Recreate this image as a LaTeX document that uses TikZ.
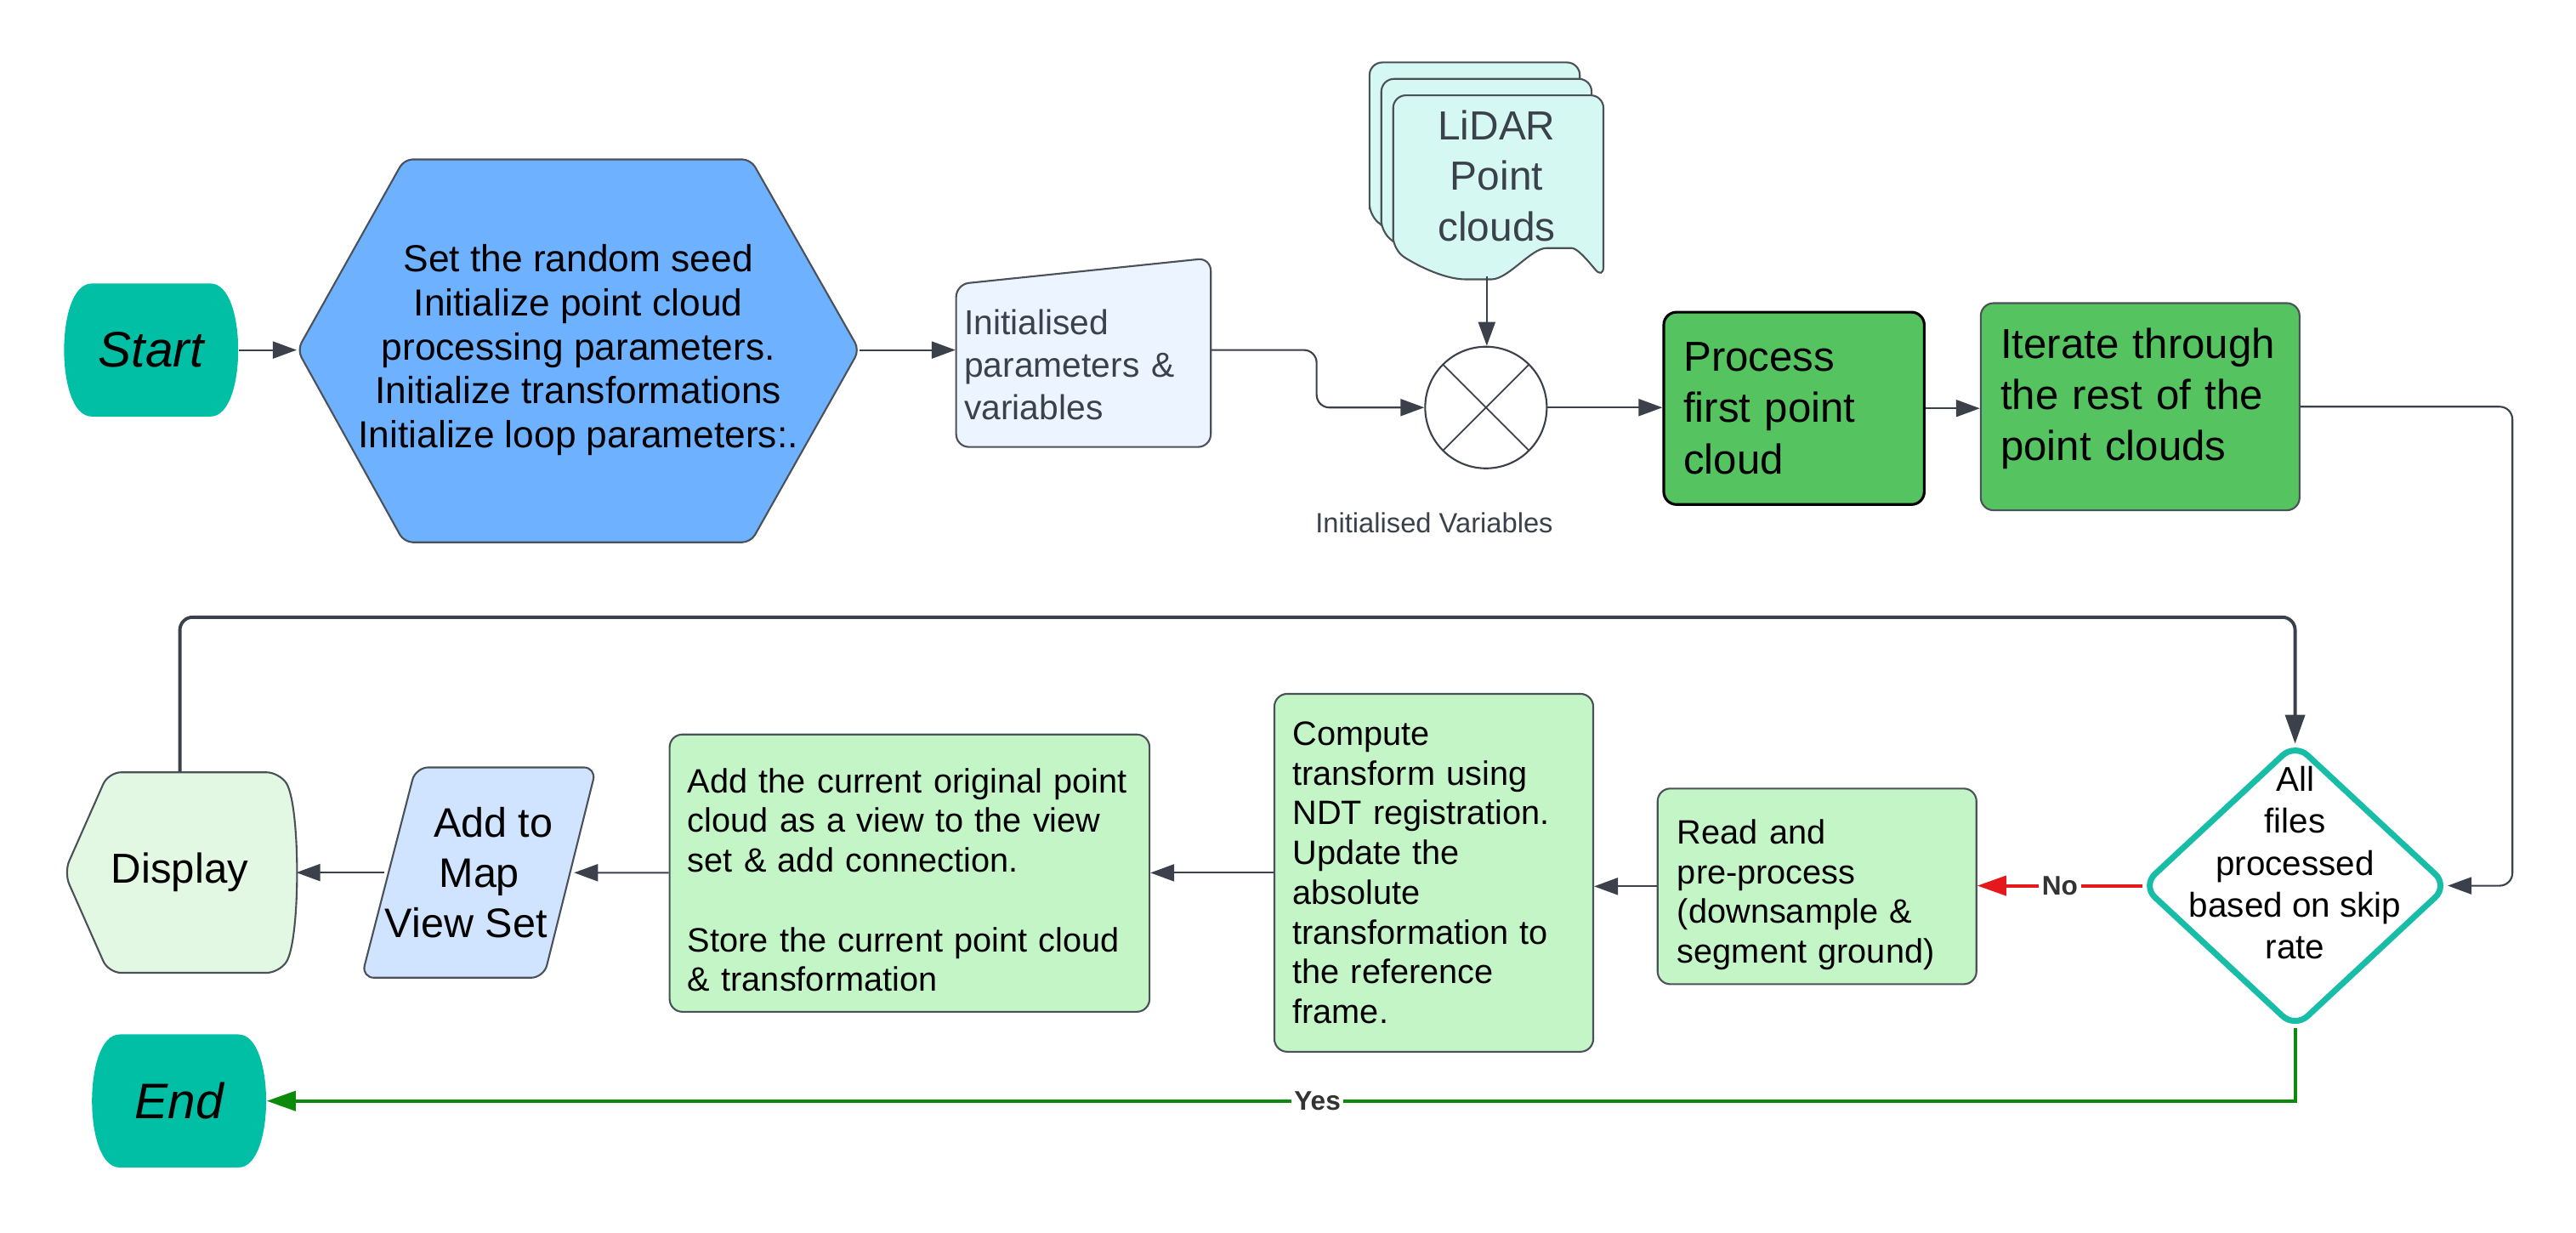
\documentclass[tikz,border=0pt]{standalone}
\usepackage{fontspec}
\setmainfont{Liberation Sans}
\usepackage{tikz}
\usetikzlibrary{arrows.meta,backgrounds,calc}
\definecolor{ink}{HTML}{3A414A}
\definecolor{edgegray}{HTML}{4B5159}
\definecolor{labelgray}{HTML}{333333}
\definecolor{termfill}{HTML}{00BFA5}
\definecolor{hexfill}{HTML}{6DB1FF}
\definecolor{paramfill}{HTML}{EBF4FF}
\definecolor{docfill}{HTML}{D6F8F2}
\definecolor{stepfill}{HTML}{55C35F}
\definecolor{softgreen}{HTML}{C3F5C7}
\definecolor{dispfill}{HTML}{E2F8E3}
\definecolor{mapfill}{HTML}{D0E4FF}
\definecolor{decisionteal}{HTML}{17BDA6}
\definecolor{nored}{HTML}{E5191C}
\definecolor{yesgreen}{HTML}{0C8A0C}
\tikzset{
  terminal/.style={inner sep=0pt,minimum width=2.048cm,minimum height=1.565cm,font=\fontsize{16.7}{20}\selectfont\itshape},
  outline/.style={draw=edgegray,line width=0.6pt,rounded corners=1.5mm},
  darkstep/.style={draw=black,line width=0.9pt,rounded corners=1.5mm,fill=stepfill,align=left,inner xsep=0.232cm,font=\fontsize{14}{17.2}\selectfont},
  lightstep/.style={outline,fill=softgreen,align=left,inner xsep=0.2126cm,minimum width=3.749cm,text width=3.319cm,font=\fontsize{11.3}{13.3}\selectfont},
  arrow/.style={-{Triangle[length=2.8mm,width=2mm]},line width=0.6pt,ink},
  bigarrow/.style={-{Triangle[length=3.4mm,width=2.3mm]},line width=1.1pt},
  edgelabel/.style={font=\fontsize{9}{10}\selectfont\bfseries,text=labelgray,fill=white,inner sep=1pt}
}

\begin{document}
\begin{tikzpicture}[
  x=0.019324cm,y=-0.019324cm,
  hexnode/.style={minimum width=6.609cm,minimum height=4.502cm,align=center,font=\fontsize{12.6}{14.7}\selectfont},
  paramnode/.style={text width=2.802cm,inner xsep=0.097cm,align=left,text=ink,font=\fontsize{11.6}{14.2}\selectfont},
  lidarnode/.style={align=center,text=ink,font=\fontsize{13.6}{16.9}\selectfont},
  mixnode/.style={circle,draw=ink,line width=0.6pt,fill=white,minimum size=1.43cm,inner sep=0pt,
    path picture={\draw[ink,line width=0.5pt] (path picture bounding box.north west) -- (path picture bounding box.south east)
      (path picture bounding box.north east) -- (path picture bounding box.south west);}},
  mixlabel/.style={text=ink,font=\fontsize{9.3}{11}\selectfont},
  decision/.style={minimum width=3.575cm,minimum height=3.324cm,inner sep=0pt},
  decisiontext/.style={align=center,font=\fontsize{11.5}{14}\selectfont},
  mapnode/.style={minimum width=2.135cm,minimum height=2.474cm,inner sep=0pt,align=center,font=\fontsize{13.8}{16.8}\selectfont},
  dispnode/.style={minimum width=2.725cm,minimum height=2.358cm,font=\fontsize{14}{17}\selectfont},
  topgap/.style={execute at begin node={\rule{0pt}{#1}}},
  raise/.style={execute at end node={\vspace*{#1}}}
]
  \useasboundingbox (0,0) rectangle (1568,750);

  % Top row
  \node[terminal] (start) at (92,213) {Start};
  \node[hexnode] (init) at (352,213) {Set the random seed\\Initialize point cloud\\processing parameters.\\Initialize transformations\\Initialize loop parameters:.};
  \node[paramnode] (params) at (659.5,222) {Initialised\\parameters \&\\variables};
  \node[lidarnode] (lidar) at (911,107) {LiDAR\\Point\\clouds};
  \coordinate (docfoot) at (905,168);
  \node[mixnode] (mix) at (904.5,248) {};
  \node[mixlabel] (mixtext) at (873,318) {Initialised Variables};
  \node[darkstep,minimum width=3.063cm,text width=2.599cm,minimum height=2.261cm] (first) at (1092,248.5) {Process\\first point\\cloud};
  \node[darkstep,draw=edgegray,line width=0.6pt,minimum width=3.749cm,text width=3.285cm,minimum height=2.435cm,raise=0.19cm] (iter) at (1302.7,247.5) {Iterate through\\the rest of the\\point clouds};

  % Bottom row
  \node[decision] (check) at (1397,539) {};
  \node[decisiontext] (checktext) at ([yshift=0.27cm]check) {All\\files\\processed\\based on skip\\rate};
  \node[lightstep,text width=3.285cm,inner xsep=0.232cm,minimum height=2.3cm,topgap=13.8pt] (read) at (1106,539.4) {Read and\\pre-process\\(downsample \&\\segment ground)};
  \node[lightstep,minimum height=4.207cm] (comp) at (872.75,531.15) {Compute\\transform using\\NDT registration.\\Update the\\absolute\\transformation to\\the reference\\frame.};
  \node[lightstep,minimum width=5.643cm,text width=5.218cm,minimum height=3.26cm,topgap=12.7pt] (store) at (553.65,531.35) {Add the current original point\\cloud as a view to the view\\set \& add connection.\\[13.3pt]Store the current point cloud\\\& transformation};
  \node[mapnode] (mapset) at (291.75,531) {\hspace*{0.33cm}Add to\\Map\\View Set\hspace*{0.31cm}};
  \node[dispnode] (disp) at (109.5,531) {Display};
  \node[terminal] (end) at (109,670) {End};

  \begin{scope}[on background layer]
    \foreach \t in {start,end}
      \fill[termfill,shift={(\t)}] (-36,-40.5) -- (36,-40.5) .. controls (48,-40.5) and (53,-19) .. (53,0)
        .. controls (53,19) and (48,40.5) .. (36,40.5) -- (-36,40.5) .. controls (-48,40.5) and (-53,19) .. (-53,0)
        .. controls (-53,-19) and (-48,-40.5) .. (-36,-40.5) -- cycle;
    \draw[outline,rounded corners=1mm,fill=hexfill] (181,213) -- (246,97) -- (457,97) -- (523,213) -- (457,330) -- (246,330) -- cycle;
    \draw[outline,fill=paramfill] (582,173) -- (737,157) -- (737,272) -- (582,272) -- cycle;
    \foreach \s in {2,1,0}
      \draw[outline,fill=docfill,shift={(-7.2*\s,-10*\s)}] (848,152) -- (848,58) -- (976,58) -- (976,170)
        .. controls (966,158) and (960,151) .. (949,151) .. controls (932,151) and (918,170) .. (900,170)
        .. controls (878,170) and (860,160) .. (848,152) -- cycle;
    \draw[outline,fill=dispfill] (39,531) -- (66,470) -- (170,470) .. controls (183,490) and (183,572) .. (170,592) -- (66,592) -- cycle;
    \draw[outline,fill=mapfill] (253,467) -- (363,467) -- (331,595) -- (220,595) -- cycle;
    \draw[draw=decisionteal,line width=2pt,rounded corners=2mm,fill=white] (check.north) -- (check.east) -- (check.south) -- (check.west) -- cycle;
  \end{scope}

  \draw[arrow] (start) -- (init);
  \draw[arrow] (init) -- (init -| params.west);
  \draw[arrow,rounded corners=1.5mm] (init -| params.east) -- ++(64,0) |- (mix);
  \draw[arrow] (docfoot) -- (docfoot |- mix.north);
  \draw[arrow] (mix) -- (mix -| first.west);
  \draw[arrow] (first) -- (first -| iter.west);
  \draw[arrow,rounded corners=1.5mm] (iter.east) -- ++(129,0) |- (check.east);

  % Loop back
  \draw[bigarrow,nored] (check.west) -- (check.west -| read.east) node[edgelabel,midway] {No};
  \draw[arrow] (read.west) -- (read.west -| comp.east);
  \draw[arrow] (comp.west) -- (comp.west -| store.east);
  \draw[arrow] (store) -- (mapset);
  \draw[arrow] (mapset) -- (disp);
  \draw[bigarrow,ink,rounded corners=1.5mm] (disp.north) -- ++(0,-94) -| (check.north);
  \draw[bigarrow,yesgreen] (check.south) |- (end) node[edgelabel,pos=0.741] {Yes};
\end{tikzpicture}
\end{document}
